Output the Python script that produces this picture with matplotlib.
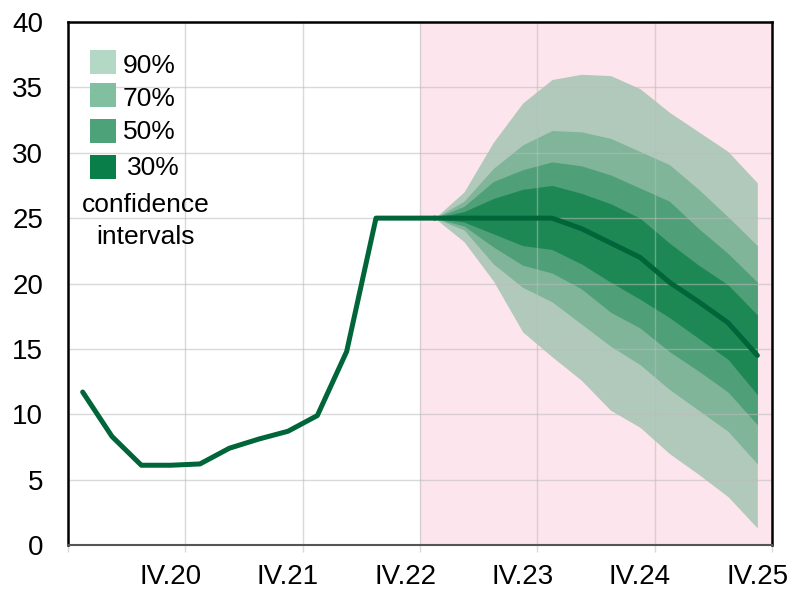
import matplotlib
matplotlib.use("Agg")
import matplotlib.pyplot as plt
from matplotlib.patches import Rectangle
import numpy as np

plt.rcParams['font.family'] = ['Liberation Sans', 'DejaVu Sans']

# ---- data ----
history = [11.7, 8.3, 6.1, 6.1, 6.2, 7.4, 8.1, 8.7, 9.9, 14.8, 25.0, 25.0, 25.0]
fan_start = 12
median = [25.0, 25.0, 25.0, 25.0, 25.0, 24.2, 23.1, 22.0, 20.1, 18.6, 17.0, 14.5]
lower90 = [25.0, 23.2, 20.2, 16.3, 14.4, 12.6, 10.3, 9.0, 7.0, 5.4, 3.7, 1.3]
lower70 = [25.0, 24.1, 21.5, 19.7, 18.6, 16.9, 15.2, 13.8, 11.9, 10.3, 8.7, 6.2]
lower50 = [25.0, 24.4, 22.8, 21.4, 20.8, 19.6, 17.8, 16.6, 14.8, 13.3, 11.7, 9.2]
lower30 = [25.0, 24.7, 23.8, 22.9, 22.6, 21.5, 20.1, 18.8, 17.4, 15.8, 14.2, 11.5]
upper30 = [25.0, 25.5, 26.5, 27.2, 27.5, 26.9, 26.1, 25.0, 23.1, 21.4, 19.9, 17.6]
upper50 = [25.0, 25.9, 27.8, 28.7, 29.3, 29.0, 28.3, 27.3, 26.3, 24.2, 22.3, 20.1]
upper70 = [25.0, 26.3, 28.8, 30.6, 31.7, 31.6, 31.1, 30.1, 29.1, 27.2, 25.1, 22.9]
upper90 = [25.0, 27.0, 30.8, 33.8, 35.6, 36.0, 35.9, 34.9, 33.1, 31.6, 30.1, 27.7]
tick_labels = ['IV.20', 'IV.21', 'IV.22', 'IV.23', 'IV.24', 'IV.25']
ci_labels = ['90%', '70%', '50%', '30%']

# ---- styles ----
line_color = '#00663A'
fan_colors = ['#B1C9BB', '#80B59A', '#4F9F78', '#1E8855']
legend_colors = ['#B3D8C6', '#80BF9F', '#4DA27A', '#0A7E48']
pink = '#FCE5EC'
tick_fs = 20
leg_fs = 19

n_total = fan_start + len(median)
x_all = np.arange(n_total) + 0.5
x_hist = x_all[:len(history)]
x_fan = x_all[fan_start:]

fig = plt.figure(figsize=(7.94, 5.90), dpi=100)
ax = fig.add_axes([68/794, 1-545/590, (772-68)/794, (545-22)/590])

ax.axvspan(fan_start, n_total, color=pink, zorder=0, lw=0)

bands = [(lower90, upper90), (lower70, upper70), (lower50, upper50), (lower30, upper30)]
for (lo, hi), c in zip(bands, fan_colors):
    ax.fill_between(x_fan, lo, hi, color=c, lw=0, zorder=1)

ax.plot(x_hist, history, color=line_color, lw=3.6, zorder=3, solid_capstyle='round', solid_joinstyle='round')
ax.plot(x_fan, median, color=line_color, lw=3.6, zorder=3, solid_capstyle='round', solid_joinstyle='round')

ax.set_xlim(0, n_total)
ax.set_ylim(0, 40)

# grid
ax.set_yticks(np.arange(0, 41, 5))
ax.set_xticks(np.arange(0, n_total + 1, 4))
ax.set_xticklabels([])
ax.set_xticks(np.arange(3.5, n_total, 4), minor=True)
ax.set_xticklabels(tick_labels, minor=True)
ax.grid(True, which='major', color='#BBBBBB', alpha=0.55, lw=1.0, zorder=2)
ax.set_axisbelow(False)
for gl in ax.get_xgridlines() + ax.get_ygridlines():
    gl.set_zorder(2)

ax.tick_params(axis='y', length=0, pad=18, labelsize=tick_fs)
ax.tick_params(axis='x', which='major', length=5, color='#D9D9D9', width=1)
ax.tick_params(axis='x', which='minor', length=0, pad=14, labelsize=tick_fs)

for s in ['left', 'top', 'right']:
    ax.spines[s].set_color('black')
    ax.spines[s].set_linewidth(1.8)
ax.spines['bottom'].set_color('#555555')
ax.spines['bottom'].set_linewidth(1.5)
for s in ax.spines.values():
    s.set_zorder(4)

# legend (manual)
def ax_x(px):
    return (px - 68) / 704
def ax_y(py):
    return (545 - py) / 523

patch_tops = [50, 83, 119, 155]
text_y = [66, 99, 132, 168]
text_x = [123, 123, 123, 127]
for lab, c, top, ty, tx in zip(ci_labels, legend_colors, patch_tops, text_y, text_x):
    ax.add_patch(Rectangle((ax_x(90), ax_y(top + 24)), 26/704, 24/523, transform=ax.transAxes,
                           facecolor=c, edgecolor='none', zorder=5))
    ax.text(ax_x(tx), ax_y(ty), lab, transform=ax.transAxes, ha='left', va='center',
            fontsize=leg_fs, zorder=5)
ax.text(ax_x(146), ax_y(205), 'confidence', transform=ax.transAxes, ha='center', va='center',
        fontsize=leg_fs, zorder=5)
ax.text(ax_x(146), ax_y(237), 'intervals', transform=ax.transAxes, ha='center', va='center',
        fontsize=leg_fs, zorder=5)

fig.savefig('out.png', dpi=100)
